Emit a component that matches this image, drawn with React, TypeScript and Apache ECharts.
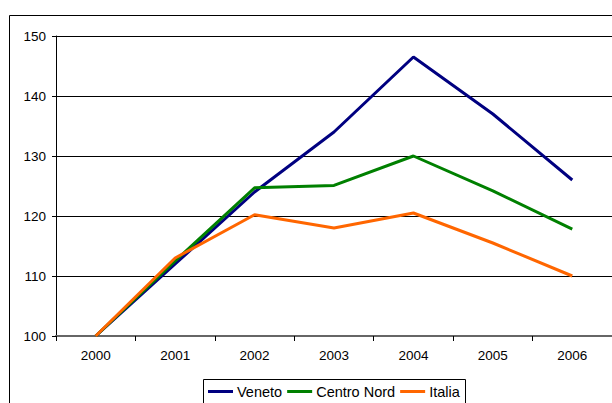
import React, { useEffect, useRef } from "react";
import * as echarts from "echarts";

const categories = ["2000", "2001", "2002", "2003", "2004", "2005", "2006"];
const veneto = [100, 112, 124, 134, 146.5, 137, 126];
const centroNord = [100, 112.5, 124.7, 125.1, 130, 124.2, 117.8];
const italia = [100, 113, 120.2, 118, 120.5, 115.5, 110];
const yTicks = { min: 100, max: 150, interval: 10 };

const FONT = "Liberation Sans, Arial, sans-serif";

export default function App() {
  const ref = useRef<HTMLDivElement>(null);
  useEffect(() => {
    if (!ref.current) return;
    const chart = echarts.init(ref.current, null, { renderer: "svg" });
    const mk = (name: string, data: number[], color: string) => ({
      name,
      type: "line",
      data,
      symbol: "none",
      lineStyle: { color, width: 3 },
      itemStyle: { color },
      z: 3,
    });
    chart.setOption({
      animation: false,
      backgroundColor: "#fff",
      grid: { left: 56, top: 36, right: 0, bottom: 67, containLabel: false },
      graphic: [
        {
          type: "rect",
          shape: { x: 9.5, y: 15.5, width: 700, height: 500 },
          style: { fill: "none", stroke: "#000", lineWidth: 1 },
          silent: true,
        },
        {
          type: "rect",
          shape: { x: 203.5, y: 379.5, width: 262, height: 40 },
          style: { fill: "#fff", stroke: "#000", lineWidth: 1 },
          silent: true,
          z: 0,
        },
      ],
      legend: {
        left: 208,
        top: 384,
        padding: 0,
        itemGap: 5,
        itemWidth: 25,
        itemHeight: 3,
        icon: "rect",
        z: 10,
        textStyle: { fontFamily: FONT, fontSize: 14.5, color: "#000", padding: [0, 0, 0, -1] },
        data: ["Veneto", "Centro Nord", "Italia"],
      },
      xAxis: {
        type: "category",
        data: categories,
        boundaryGap: true,
        axisLine: { lineStyle: { color: "#666", width: 2 } },
        axisTick: { show: true, length: 5, inside: false, lineStyle: { color: "#000", width: 1 } },
        axisLabel: { fontFamily: FONT, fontSize: 13.5, color: "#000", margin: 12 },
        splitLine: { show: false },
      },
      yAxis: {
        type: "value",
        min: yTicks.min,
        max: yTicks.max,
        interval: yTicks.interval,
        axisLine: { show: true, lineStyle: { color: "#000", width: 1 } },
        axisTick: { show: true, length: 4, lineStyle: { color: "#000" } },
        axisLabel: { fontFamily: FONT, fontSize: 13.5, color: "#000", margin: 10 },
        splitLine: { show: true, lineStyle: { color: "#000", width: 1 } },
      },
      series: [
        mk("Veneto", veneto, "#000080"),
        mk("Centro Nord", centroNord, "#008000"),
        mk("Italia", italia, "#FF6600"),
      ],
    });
    return () => chart.dispose();
  }, []);
  return <div ref={ref} style={{ width: 612, height: 403, position: "absolute", left: 0, top: 0 }} />;
}
